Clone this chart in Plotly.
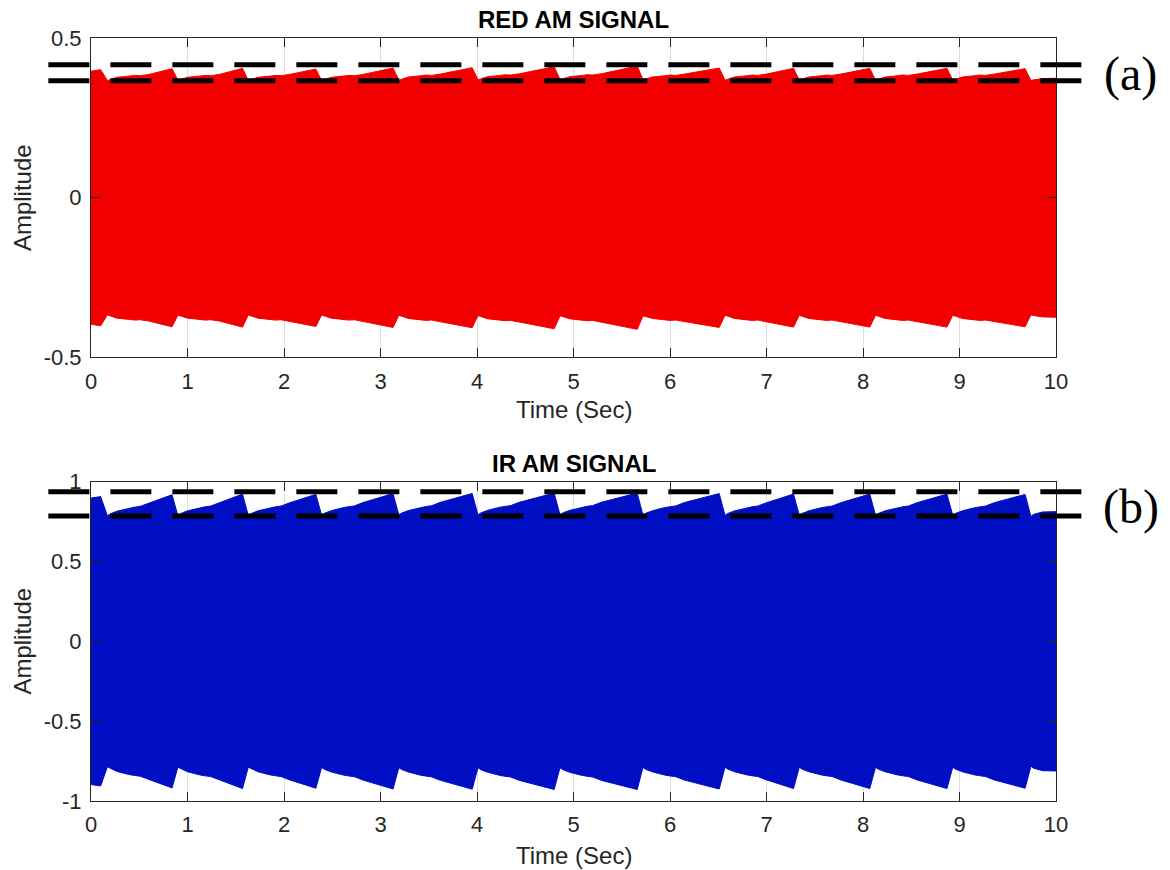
import plotly.graph_objects as go

# Envelope of the RED amplitude-modulated signal (time in s, amplitude)
red_t = [0.00, 0.10, 0.17, 0.20, 0.27, 0.40, 0.45, 0.51, 0.60, 0.84,
         0.90, 0.93, 1.00, 1.13, 1.18, 1.24, 1.33, 1.57,
         1.63, 1.66, 1.73, 1.86, 1.91, 1.97, 2.06, 2.33,
         2.39, 2.42, 2.49, 2.62, 2.67, 2.73, 2.82, 3.13,
         3.19, 3.22, 3.29, 3.42, 3.47, 3.53, 3.62, 3.95,
         4.01, 4.04, 4.11, 4.24, 4.29, 4.35, 4.44, 4.80,
         4.86, 4.89, 4.96, 5.09, 5.14, 5.20, 5.29, 5.66,
         5.72, 5.75, 5.82, 5.95, 6.00, 6.06, 6.15, 6.51,
         6.57, 6.60, 6.67, 6.80, 6.85, 6.91, 7.00, 7.28,
         7.34, 7.37, 7.44, 7.57, 7.62, 7.68, 7.77, 8.07,
         8.13, 8.16, 8.23, 8.36, 8.41, 8.47, 8.56, 8.87,
         8.93, 8.96, 9.03, 9.16, 9.21, 9.27, 9.36, 9.68,
         9.74, 9.77, 9.86, 10.00]
red_amp = [0.396, 0.401, 0.367, 0.370, 0.377, 0.381, 0.383, 0.382, 0.386, 0.404,
           0.368, 0.370, 0.377, 0.381, 0.383, 0.382, 0.386, 0.405,
           0.367, 0.370, 0.377, 0.381, 0.383, 0.382, 0.386, 0.403,
           0.367, 0.370, 0.377, 0.381, 0.383, 0.382, 0.386, 0.406,
           0.368, 0.371, 0.378, 0.382, 0.384, 0.383, 0.387, 0.407,
           0.369, 0.372, 0.379, 0.383, 0.385, 0.384, 0.388, 0.410,
           0.370, 0.372, 0.379, 0.383, 0.385, 0.384, 0.388, 0.412,
           0.370, 0.372, 0.378, 0.382, 0.384, 0.383, 0.387, 0.406,
           0.368, 0.371, 0.378, 0.382, 0.384, 0.383, 0.387, 0.405,
           0.368, 0.371, 0.378, 0.382, 0.384, 0.383, 0.387, 0.405,
           0.368, 0.371, 0.378, 0.382, 0.384, 0.383, 0.387, 0.405,
           0.368, 0.371, 0.378, 0.382, 0.384, 0.383, 0.387, 0.404,
           0.367, 0.369, 0.373, 0.374]

# Envelope of the IR amplitude-modulated signal
ir_t = red_t
ir_amp = [0.897, 0.906, 0.786, 0.798, 0.815, 0.835, 0.840, 0.845, 0.866, 0.918,
          0.788, 0.800, 0.817, 0.837, 0.842, 0.847, 0.868, 0.922,
          0.788, 0.800, 0.817, 0.837, 0.842, 0.847, 0.868, 0.920,
          0.790, 0.802, 0.818, 0.838, 0.843, 0.848, 0.869, 0.925,
          0.791, 0.803, 0.819, 0.839, 0.844, 0.849, 0.870, 0.926,
          0.792, 0.804, 0.820, 0.840, 0.845, 0.850, 0.871, 0.928,
          0.792, 0.804, 0.820, 0.840, 0.845, 0.850, 0.871, 0.928,
          0.790, 0.802, 0.818, 0.838, 0.843, 0.848, 0.869, 0.925,
          0.789, 0.801, 0.817, 0.837, 0.842, 0.847, 0.868, 0.922,
          0.789, 0.801, 0.817, 0.837, 0.842, 0.847, 0.868, 0.922,
          0.789, 0.801, 0.817, 0.837, 0.842, 0.847, 0.868, 0.922,
          0.789, 0.801, 0.817, 0.837, 0.842, 0.847, 0.868, 0.920,
          0.782, 0.795, 0.810, 0.812]

# Reference levels marked with dashed lines
red_levels = [0.416, 0.366]
ir_levels = [0.937, 0.785]

x_ticks = list(range(0, 11))
red_yticks = [-0.5, 0, 0.5]
red_yticktext = ["-0.5", "0", "0.5"]
ir_yticks = [-1, -0.5, 0, 0.5, 1]
ir_yticktext = ["-1", "-0.5", "0", "0.5", "1"]

RED = "#F20000"
BLUE = "#000FC4"
AXC = "#262626"
FONT = "Liberation Sans, Arial, Helvetica, sans-serif"

fig = go.Figure()


def band(t, amp, color, xa, ya):
    xs = list(t) + list(reversed(t))
    ys = list(amp) + [-a for a in reversed(amp)]
    return go.Scatter(x=xs, y=ys, fill="toself", fillcolor=color, mode="lines",
                      line=dict(color=color, width=1), xaxis=xa, yaxis=ya,
                      hoverinfo="skip", showlegend=False)


fig.add_trace(band(red_t, red_amp, RED, "x", "y"))
fig.add_trace(band(ir_t, ir_amp, BLUE, "x2", "y2"))

axis_common = dict(showline=True, linecolor=AXC, linewidth=1, mirror="ticks",
                   ticks="inside", ticklen=9, tickcolor=AXC, tickwidth=1,
                   zeroline=False,
                   tickfont=dict(family=FONT, size=22, color=AXC))

fig.update_layout(
    width=1170, height=870,
    margin=dict(l=91, r=114, t=38, b=69),
    paper_bgcolor="white", plot_bgcolor="white",
    xaxis=dict(domain=[0, 1], anchor="y", range=[0, 10], tickvals=x_ticks,
               ticklabelstandoff=4,
               showgrid=True, gridcolor="#dedede", gridwidth=1, **axis_common),
    yaxis=dict(domain=[0.5813, 1], anchor="x", range=[-0.5, 0.5],
               tickvals=red_yticks, ticktext=red_yticktext, showgrid=False,
               ticklabelstandoff=4, **axis_common),
    xaxis2=dict(domain=[0, 1], anchor="y2", range=[0, 10], tickvals=x_ticks,
                ticklabelstandoff=4,
                showgrid=True, gridcolor="#dedede", gridwidth=1, **axis_common),
    yaxis2=dict(domain=[0, 0.4186], anchor="x2", range=[-1, 1],
                tickvals=ir_yticks, ticktext=ir_yticktext, showgrid=False,
                ticklabelstandoff=4, **axis_common),
)

dash_line = dict(color="black", width=5, dash="41px,21px")
shapes = []
for lv in red_levels:
    shapes.append(dict(type="line", xref="paper", yref="y", x0=-0.0442, x1=1.028,
                       y0=lv, y1=lv, line=dash_line, layer="above"))
for lv in ir_levels:
    shapes.append(dict(type="line", xref="paper", yref="y2", x0=-0.0442, x1=1.028,
                       y0=lv, y1=lv, line=dash_line, layer="above"))
fig.update_layout(shapes=shapes)

ann = []
ann.append(dict(text="<b>RED AM SIGNAL</b>", xref="paper", yref="paper", x=0.5, y=1.024,
                showarrow=False, font=dict(family=FONT, size=24, color="black"),
                xanchor="center", yanchor="middle"))
ann.append(dict(text="<b>IR AM SIGNAL</b>", xref="paper", yref="paper", x=0.5, y=0.4419,
                showarrow=False, font=dict(family=FONT, size=24, color="black"),
                xanchor="center", yanchor="middle"))
for yy in [0.5127, -0.0708]:
    ann.append(dict(text="Time (Sec)", xref="paper", yref="paper", x=0.5, y=yy,
                    showarrow=False, font=dict(family=FONT, size=24, color=AXC),
                    xanchor="center", yanchor="middle"))
for yy in [0.7906, 0.2093]:
    ann.append(dict(text="Amplitude", xref="paper", yref="paper", x=-0.0712, y=yy,
                    showarrow=False, textangle=-90,
                    font=dict(family=FONT, size=24, color=AXC),
                    xanchor="center", yanchor="middle"))
ann.append(dict(text="(a)", xref="paper", yref="y", x=1.0777, y=0.388,
                showarrow=False, font=dict(family="Liberation Serif, Times New Roman, serif",
                                           size=48, color="black"),
                xanchor="center", yanchor="middle"))
ann.append(dict(text="(b)", xref="paper", yref="y2", x=1.0777, y=0.842,
                showarrow=False, font=dict(family="Liberation Serif, Times New Roman, serif",
                                           size=48, color="black"),
                xanchor="center", yanchor="middle"))
fig.update_layout(annotations=ann)

fig.write_html("out.html")
